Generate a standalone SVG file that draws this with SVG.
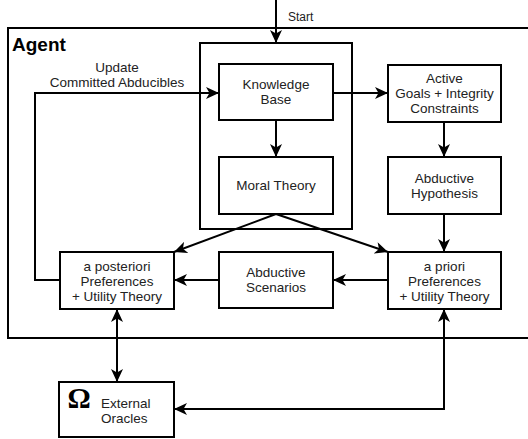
<svg xmlns="http://www.w3.org/2000/svg" width="528" height="439" viewBox="0 0 528 439">
<defs>
<style>
.box{fill:#fff;stroke:#000;stroke-width:2}
.frame{fill:none;stroke:#000;stroke-width:2}
.ln{fill:none;stroke:#000;stroke-width:2}
text{font-family:"Liberation Sans",Arial,sans-serif;font-size:13.5px;fill:#222;text-anchor:middle}
</style>
<marker id="ah" markerUnits="userSpaceOnUse" markerWidth="14" markerHeight="12" viewBox="0 0 14 12" refX="13" refY="6" orient="auto-start-reverse">
<path d="M0,0 L13,6 L0,12 L3.5,6 z" fill="#000"/>
</marker>
</defs>
<rect fill="#fff" width="528" height="439"/>
<g id="agent">
<path class="frame" d="M530,28 H8 V338 H530"/>
<text x="12" y="51" style="font-size:19px;font-weight:bold;text-anchor:start;fill:#000">Agent</text>
</g>
<g id="kb-container"><rect class="frame" x="200" y="43" width="152" height="186"/></g>
<g id="connectors">
<line class="ln" x1="276" y1="0" x2="276" y2="43" marker-end="url(#ah)"/>
<line class="ln" x1="276" y1="120" x2="276" y2="157" marker-end="url(#ah)"/>
<line class="ln" x1="333" y1="93" x2="388" y2="93" marker-end="url(#ah)"/>
<line class="ln" x1="444" y1="122" x2="444" y2="157" marker-end="url(#ah)"/>
<line class="ln" x1="444" y1="214" x2="444" y2="252" marker-end="url(#ah)"/>
<line class="ln" x1="276" y1="214" x2="174" y2="252" marker-end="url(#ah)"/>
<line class="ln" x1="276" y1="214" x2="388" y2="252" marker-end="url(#ah)"/>
<line class="ln" x1="388" y1="280" x2="333" y2="280" marker-end="url(#ah)"/>
<line class="ln" x1="219" y1="280" x2="174" y2="280" marker-end="url(#ah)"/>
<path class="ln" d="M60,280 H35 V93 H219" marker-end="url(#ah)"/>
<line class="ln" x1="117" y1="309" x2="117" y2="382" marker-start="url(#ah)" marker-end="url(#ah)"/>
<path class="ln" d="M444,309 V409 H174" marker-start="url(#ah)" marker-end="url(#ah)"/>
<text x="288" y="21" style="font-size:12px;text-anchor:start">Start</text>
<text x="117" y="72">Update</text>
<text x="117" y="87">Committed Abducibles</text>
</g>
<g id="knowledge-base">
<rect class="box" x="219" y="64" width="114" height="56"/>
<text x="276" y="89">Knowledge</text>
<text x="276" y="104">Base</text>
</g>
<g id="moral-theory">
<rect class="box" x="219" y="157" width="114" height="57"/>
<text x="276" y="190">Moral Theory</text>
</g>
<g id="active-goals">
<rect class="box" x="388" y="65" width="113" height="57"/>
<text x="444.5" y="83">Active</text>
<text x="444.5" y="98">Goals + Integrity</text>
<text x="444.5" y="113">Constraints</text>
</g>
<g id="abductive-hypothesis">
<rect class="box" x="388" y="157" width="113" height="57"/>
<text x="444.5" y="183">Abductive</text>
<text x="444.5" y="198">Hypothesis</text>
</g>
<g id="a-priori">
<rect class="box" x="388" y="252" width="113" height="57"/>
<text x="444.5" y="271">a priori</text>
<text x="444.5" y="286">Preferences</text>
<text x="444.5" y="301">+ Utility Theory</text>
</g>
<g id="abductive-scenarios">
<rect class="box" x="219" y="252" width="114" height="56"/>
<text x="276" y="277">Abductive</text>
<text x="276" y="292">Scenarios</text>
</g>
<g id="a-posteriori">
<rect class="box" x="60" y="252" width="114" height="57"/>
<text x="117" y="271">a posteriori</text>
<text x="117" y="286">Preferences</text>
<text x="117" y="301">+ Utility Theory</text>
</g>
<g id="external-oracles">
<rect class="box" x="59" y="382" width="115" height="55"/>
<text x="79" y="408" style="font-family:'Liberation Serif','Times New Roman',serif;font-size:29px;font-weight:bold;fill:#000">Ω</text>
<text x="101" y="408" style="text-anchor:start">External</text>
<text x="101" y="423" style="text-anchor:start">Oracles</text>
</g>
</svg>
